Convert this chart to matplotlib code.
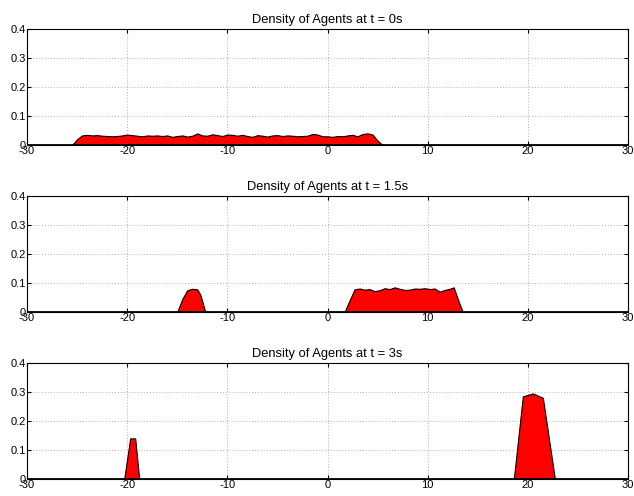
import numpy as np
import matplotlib.pyplot as plt

plt.rcParams['font.family'] = ['Liberation Sans', 'DejaVu Sans']
plt.rcParams['font.size'] = 8
plt.rcParams['axes.unicode_minus'] = False

titles = ["Density of Agents at t = 0s",
          "Density of Agents at t = 1.5s",
          "Density of Agents at t = 3s"]

# t = 0s
x0 = [-30, -25.5, -25, -24.5, -24, -23.5, -23, -22.5, -22, -21.5, -21, -20.5, -20,
      -19.5, -19, -18.5, -18, -17.5, -17, -16.5, -16, -15.5, -15, -14.5, -14,
      -13.5, -13, -12.5, -12, -11.5, -11, -10.5, -10, -9.5, -9, -8.5, -8, -7.5,
      -7, -6.5, -6, -5.5, -5, -4.5, -4, -3.5, -3, -2.5, -2, -1.5, -1, -0.5, 0,
      0.5, 1, 1.5, 2, 2.5, 3, 3.5, 4, 4.5, 5, 5.5, 30]
y0 = [0, 0, 0.02, 0.033, 0.035, 0.033, 0.034, 0.032, 0.031, 0.030, 0.031, 0.033, 0.036,
      0.034, 0.032, 0.030, 0.033, 0.032, 0.033, 0.031, 0.033, 0.028, 0.031, 0.033, 0.029,
      0.032, 0.040, 0.033, 0.032, 0.037, 0.034, 0.031, 0.036, 0.035, 0.032, 0.035, 0.031, 0.028,
      0.034, 0.032, 0.029, 0.033, 0.034, 0.031, 0.033, 0.032, 0.030, 0.031, 0.032, 0.038, 0.036, 0.030, 0.030,
      0.028, 0.031, 0.030, 0.033, 0.035, 0.030, 0.038, 0.040, 0.036, 0.015, 0, 0]

# t = 1.5s
x1 = [-30, -15, -14.5, -14, -13.5, -13, -12.7, -12.2,
      1.7, 2.2, 2.7, 3.2, 3.7, 4.2, 4.7, 5.2, 5.7, 6.2, 6.7, 7.2, 7.7, 8.2, 8.7,
      9.2, 9.7, 10.2, 10.7, 11.2, 11.7, 12.2, 12.6, 13, 13.5, 30]
y1 = [0, 0, 0.045, 0.075, 0.08, 0.078, 0.06, 0,
      0, 0.04, 0.078, 0.081, 0.077, 0.079, 0.072, 0.075, 0.082, 0.079, 0.085, 0.080, 0.076, 0.077, 0.081,
      0.080, 0.082, 0.079, 0.081, 0.070, 0.076, 0.080, 0.085, 0.045, 0, 0]

# t = 3s
x2 = [-30, -20.3, -19.7, -19.2, -18.8, 18.6, 19.5, 20.5, 21.5, 22.7, 30]
y2 = [0, 0, 0.14, 0.14, 0, 0, 0.285, 0.295, 0.28, 0, 0]

xs = [x0, x1, x2]
ys = [y0, y1, y2]

fig = plt.figure(figsize=(6.34, 4.96), dpi=100)
tops = [29, 196, 363]
for i in range(3):
    ax = fig.add_axes([27/634, 1 - (tops[i] + 116)/496, 601/634, 116/496])
    ax.fill_between(xs[i], ys[i], 0, facecolor='red', edgecolor='black', linewidth=0.8, zorder=2)
    ax.plot([-30, 30], [0, 0], color='black', linewidth=2, zorder=3)
    ax.set_xlim(-30, 30)
    ax.set_ylim(0, 0.4)
    ax.set_xticks([-30, -20, -10, 0, 10, 20, 30])
    ax.set_yticks([0, 0.1, 0.2, 0.3, 0.4])
    ax.set_yticklabels(['0', '0.1', '0.2', '0.3', '0.4'])
    ax.grid(True, linestyle=(0, (1, 2)), color='#b0b0b0', linewidth=0.7)
    ax.tick_params(direction='in', top=True, right=True, length=3, pad=1)
    for s in ax.spines.values():
        s.set_linewidth(0.8)
    ax.set_title(titles[i], fontsize=9.3, pad=4)

fig.savefig('out.png', dpi=100)
